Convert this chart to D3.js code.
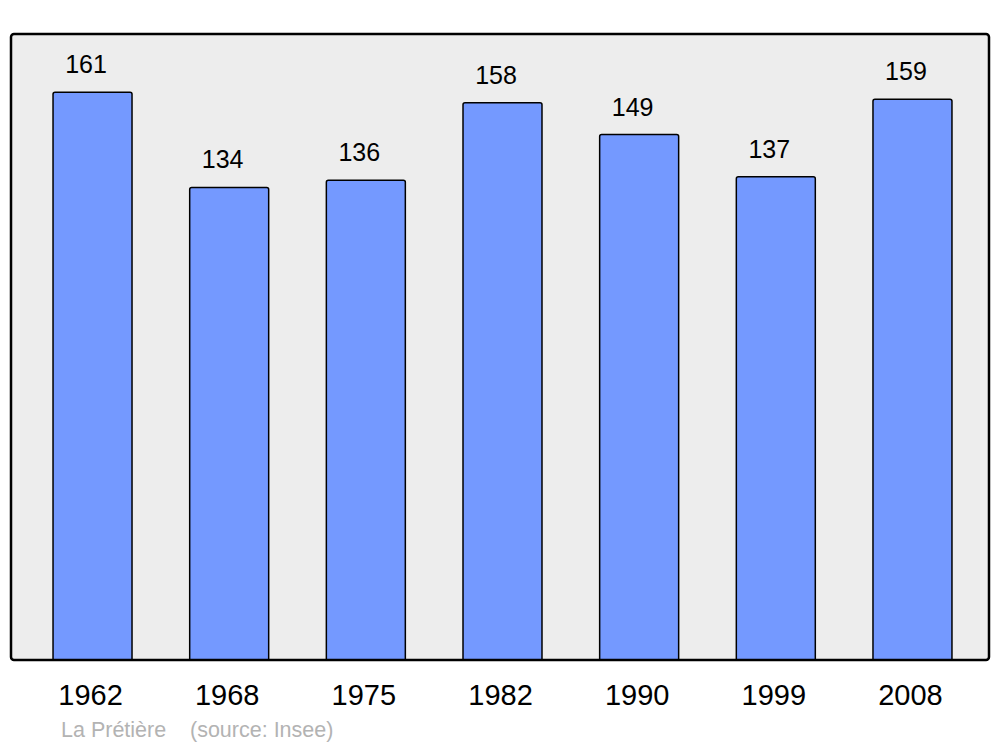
<!DOCTYPE html>
<html>
<head>
<meta charset="utf-8">
<script src="https://cdn.jsdelivr.net/npm/d3@7"></script>
<style>
  body { margin: 0; background: #fff; }
  svg { display: block; font-family: "Liberation Sans", Arial, sans-serif; }
</style>
</head>
<body>
<svg></svg>
<script>
  // population by census year
  let years = ['1962', '1968', '1975', '1982', '1990', '1999', '2008'];
  let population = [161, 134, 136, 158, 149, 137, 159];
  let commune = 'La Prétière';
  let source = '(source: Insee)';

  let width = 1000;
  let height = 747;

  let frame = { left: 11, right: 989, top: 34, bottom: 660 };

  let svg = d3.select('svg').attr('width', width).attr('height', height);

  let xScale = d3
    .scaleBand()
    .domain(years)
    .range([25.7, 979.3])
    .paddingInner(0.422)
    .paddingOuter(0.2);

  let yScale = d3
    .scaleLinear()
    .domain([0, 177.5])
    .range([frame.bottom, frame.top]);

  // clip bars to the panel so their bottoms sit under the frame line
  svg
    .append('clipPath')
    .attr('id', 'panel')
    .append('rect')
    .attr('x', frame.left)
    .attr('y', frame.top)
    .attr('width', frame.right - frame.left)
    .attr('height', frame.bottom - frame.top)
    .attr('rx', 3);

  svg
    .append('rect')
    .attr('x', frame.left)
    .attr('y', frame.top)
    .attr('width', frame.right - frame.left)
    .attr('height', frame.bottom - frame.top)
    .attr('rx', 3)
    .attr('fill', '#ededed');

  svg
    .append('g')
    .attr('clip-path', 'url(#panel)')
    .selectAll('rect')
    .data(population)
    .enter()
    .append('rect')
    .attr('x', (d, i) => xScale(years[i]))
    .attr('y', (d) => yScale(d))
    .attr('width', xScale.bandwidth())
    .attr('height', (d) => yScale(0) - yScale(d) + 4)
    .attr('rx', 2)
    .attr('fill', '#7499ff')
    .attr('stroke', '#000')
    .attr('stroke-width', 1.5);

  svg
    .append('rect')
    .attr('x', frame.left)
    .attr('y', frame.top)
    .attr('width', frame.right - frame.left)
    .attr('height', frame.bottom - frame.top)
    .attr('rx', 3)
    .attr('fill', 'none')
    .attr('stroke', '#000')
    .attr('stroke-width', 2.5);

  svg
    .selectAll('text.value')
    .data(population)
    .enter()
    .append('text')
    .attr('class', 'value')
    .attr('x', (d, i) => xScale(years[i]) + xScale.bandwidth() / 2 - 6.5)
    .attr('y', (d) => yScale(d) - 19)
    .attr('text-anchor', 'middle')
    .attr('font-size', 25)
    .attr('fill', '#000')
    .text((d) => d);

  let xAxis = d3.axisBottom(xScale).tickSize(0).tickPadding(0);
  let axisG = svg
    .append('g')
    .attr('transform', `translate(-2, 684)`)
    .call(xAxis);
  axisG.select('.domain').remove();
  axisG
    .selectAll('text')
    .attr('font-size', 29)
    .attr('font-family', '"Liberation Sans", Arial, sans-serif')
    .attr('fill', '#000');

  svg
    .append('text')
    .attr('x', 61)
    .attr('y', 737)
    .attr('font-size', 21.5)
    .attr('fill', '#b3b3b3')
    .text(commune);

  svg
    .append('text')
    .attr('x', 190)
    .attr('y', 737)
    .attr('font-size', 21.5)
    .attr('fill', '#b3b3b3')
    .text(source);
</script>
</body>
</html>
